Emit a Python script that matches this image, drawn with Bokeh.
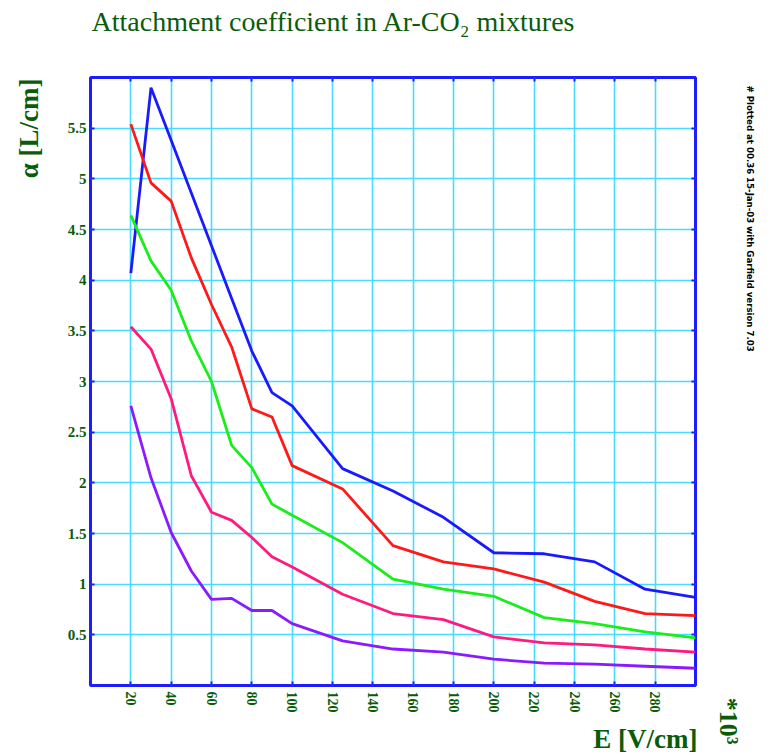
import math
from bokeh.plotting import figure
from bokeh.models import LinearAxis, FixedTicker, Range1d, Grid, CustomJSTickFormatter, Title
from bokeh.embed import file_html
from bokeh.resources import INLINE

# ---- data ----
E = [20, 30, 40, 50, 60, 70, 80, 90, 100, 125, 150, 175, 200, 225, 250, 275, 300]
blue = [4.07, 5.90, 5.38, 4.86, 4.34, 3.82, 3.30, 2.89, 2.76, 2.14, 1.92, 1.66, 1.31, 1.30, 1.22, 0.95, 0.87]
red = [5.54, 4.96, 4.78, 4.22, 3.76, 3.34, 2.73, 2.65, 2.17, 1.94, 1.38, 1.22, 1.15, 1.02, 0.83, 0.71, 0.69]
green = [4.64, 4.19, 3.90, 3.40, 3.00, 2.37, 2.15, 1.79, 1.68, 1.41, 1.05, 0.95, 0.88, 0.67, 0.61, 0.53, 0.47]
pink = [3.54, 3.32, 2.83, 2.07, 1.71, 1.63, 1.46, 1.27, 1.17, 0.90, 0.71, 0.65, 0.48, 0.42, 0.40, 0.36, 0.33]
purple = [2.76, 2.05, 1.51, 1.13, 0.85, 0.86, 0.74, 0.74, 0.61, 0.44, 0.36, 0.33, 0.26, 0.22, 0.21, 0.19, 0.17]
series = [(blue, "#1a1aff"), (red, "#ff1a1a"), (green, "#1aee1a"), (pink, "#ff1a80"), (purple, "#8a1aff")]

x_ticks = [20, 40, 60, 80, 100, 120, 140, 160, 180, 200, 220, 240, 260, 280]
y_ticks = [0.5, 1, 1.5, 2, 2.5, 3, 3.5, 4, 4.5, 5, 5.5]
y_tick_labels = {0.5: "0.5", 1: "1", 1.5: "1.5", 2: "2", 2.5: "2.5", 3: "3", 3.5: "3.5",
                 4: "4", 4.5: "4.5", 5: "5", 5.5: "5.5"}

title_text = "Attachment coefficient in Ar-CO\u2082 mixtures"
ylabel_text = "\u03b1 [L/cm]"
xlabel_text = "E [V/cm]"
scale_text = "*10\u00b3"
stamp_text = "# Plotted at 00.36 15-Jan-03 with Garfield version 7.03"

GREEN_TXT = "#0a5c0a"
AXIS_BLUE = "#1c1cff"
GRID_CYAN = "#45dcff"
SERIF = "Liberation Serif"

p = figure(width=763, height=755, output_backend="svg", toolbar_location=None,
           x_range=Range1d(0, 300), y_range=Range1d(0, 6),
           min_border_left=90, min_border_right=68, min_border_top=77, min_border_bottom=70,
           x_axis_type=None, y_axis_type=None)
p.background_fill_color = "white"
p.border_fill_color = "white"
p.outline_line_color = AXIS_BLUE
p.outline_line_width = 3

p.add_layout(Grid(dimension=0, ticker=FixedTicker(ticks=x_ticks),
                  grid_line_color=GRID_CYAN, grid_line_width=1.6))
p.add_layout(Grid(dimension=1, ticker=FixedTicker(ticks=y_ticks),
                  grid_line_color=GRID_CYAN, grid_line_width=1.6))

for data, col in series:
    p.line(E, data, line_color=col, line_width=2.8)

def make_axis(ticks, show_labels, size="14px", orientation=None):
    ax = LinearAxis(ticker=FixedTicker(ticks=ticks))
    ax.axis_line_color = None
    ax.major_tick_line_color = AXIS_BLUE
    ax.major_tick_line_width = 2
    ax.major_tick_in = 4
    ax.major_tick_out = 0
    ax.minor_tick_line_color = None
    ax.major_label_text_font = SERIF
    ax.major_label_text_font_style = "bold"
    ax.major_label_text_color = GREEN_TXT
    ax.major_label_text_font_size = size
    if not show_labels:
        ax.formatter = CustomJSTickFormatter(code="return ''")
        ax.major_label_standoff = 0
    if orientation is not None:
        ax.major_label_orientation = orientation
    return ax

def spacer(ticks, gap):
    # invisible axis used only to reserve room between the frame and an outer title
    ax = make_axis(ticks, False)
    ax.major_tick_in = 0
    ax.major_tick_out = gap
    ax.major_tick_line_color = None
    return ax

xb = make_axis(x_ticks, True, "14px", -math.pi / 2)
xb.major_label_standoff = 6
yl = make_axis(y_ticks, True, "15px")
yl.major_label_overrides = y_tick_labels
yl.major_label_standoff = 4
xt = make_axis(x_ticks, False)
yr = make_axis(y_ticks, False)
p.add_layout(xb, "below")
p.add_layout(yl, "left")
p.add_layout(xt, "above")
p.add_layout(yr, "right")
p.add_layout(spacer(x_ticks, 40), "above")
p.add_layout(spacer(y_ticks, 21), "left")
p.add_layout(spacer(x_ticks, 6), "below")
p.add_layout(spacer(y_ticks, 18), "right")

# outer texts as side-panel titles (not clipped by the frame)
p.add_layout(Title(text=title_text, align="left", offset=1, standoff=2,
                   text_font=SERIF, text_font_size="28px", text_font_style="normal",
                   text_color=GREEN_TXT), "above")
p.add_layout(Title(text=ylabel_text, align="right", offset=1, standoff=0,
                   text_font=SERIF, text_font_size="27px", text_font_style="bold",
                   text_color=GREEN_TXT), "left")
p.add_layout(Title(text=xlabel_text, align="right", offset=-2, standoff=0,
                   text_font=SERIF, text_font_size="27px", text_font_style="bold",
                   text_color=GREEN_TXT), "below")
p.add_layout(Title(text=scale_text, align="right", offset=-59, standoff=0,
                   text_font=SERIF, text_font_size="26px", text_font_style="bold",
                   text_color=GREEN_TXT), "right")
p.add_layout(Title(text=stamp_text, align="left", offset=8, standoff=0,
                   text_font="DejaVu Sans", text_font_size="8.6px", text_font_style="bold",
                   text_color="black"), "right")

open("out.html", "w").write(file_html(p, INLINE))
